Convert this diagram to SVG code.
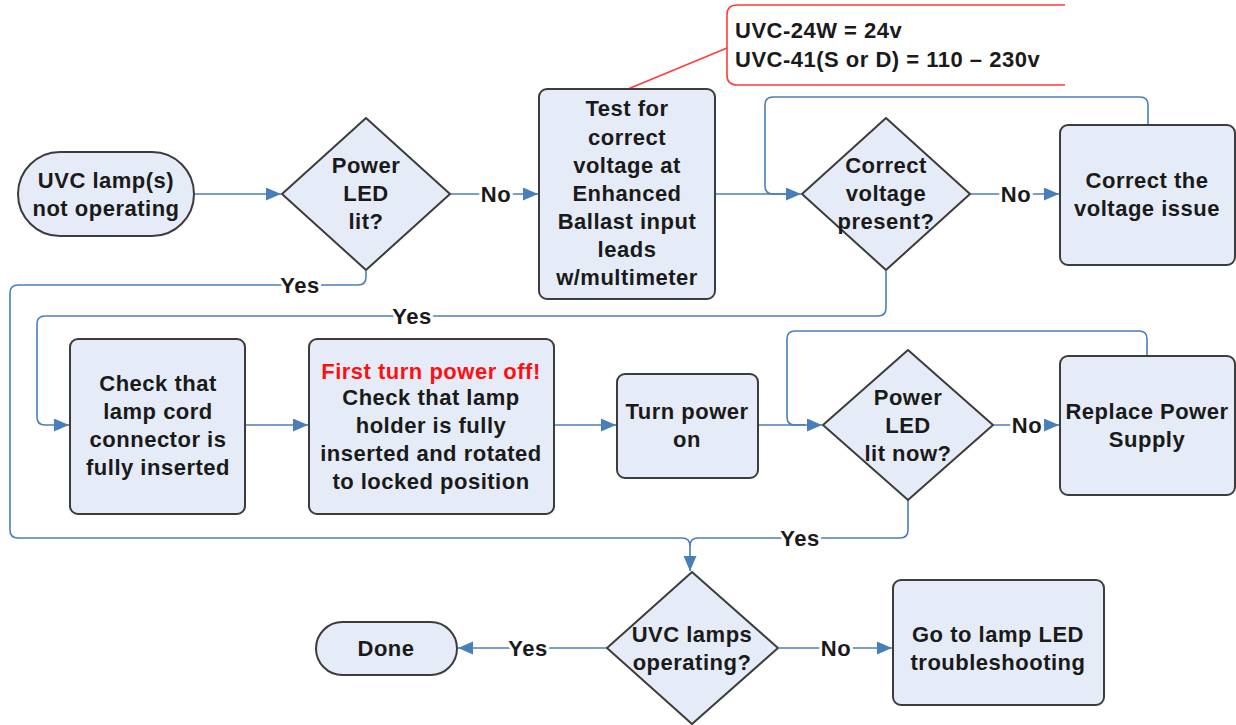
<svg xmlns="http://www.w3.org/2000/svg" width="1236" height="725" viewBox="0 0 1236 725">
<style>
.n{fill:#e6ecf7;stroke:#3c3c3c;stroke-width:2;stroke-linejoin:round}
.t{font-family:"Liberation Sans",Arial,sans-serif;font-weight:bold;font-size:22px;letter-spacing:0.5px;fill:#1a1a1a;text-anchor:middle}
.c{fill:none;stroke:#4a7ebb;stroke-width:1.6}
.lb{font-family:"Liberation Sans",Arial,sans-serif;font-weight:bold;font-size:22px;letter-spacing:0.5px;fill:#1a1a1a;text-anchor:middle;stroke:#fff;stroke-width:6;paint-order:stroke;stroke-linejoin:round}
</style>
<defs>
<marker id="a" markerUnits="userSpaceOnUse" markerWidth="16" markerHeight="14" refX="15" refY="6.5" orient="auto">
<path d="M0,0 L15,6.5 L0,13 Z" fill="#4a7ebb"/>
</marker>
</defs>
<rect width="1236" height="725" fill="#fff"/>
<g id="connectors">
<path class="c" d="M194,194 H281" marker-end="url(#a)"/>
<path class="c" d="M450,194 H538" marker-end="url(#a)"/>
<path class="c" d="M715,194 H801" marker-end="url(#a)"/>
<path class="c" d="M970,194 H1059" marker-end="url(#a)"/>
<path class="c" d="M1148,125 V105 Q1148,97 1140,97 H773 Q765,97 765,105 V186 Q765,194 773,194 H790"/>
<path class="c" d="M886,271 V308 Q886,316 878,316 H45 Q37,316 37,324 V417 Q37,425 45,425 H69" marker-end="url(#a)"/>
<path class="c" d="M245,425 H308" marker-end="url(#a)"/>
<path class="c" d="M554,425 H616" marker-end="url(#a)"/>
<path class="c" d="M758,425 H822" marker-end="url(#a)"/>
<path class="c" d="M1147,356 V339 Q1147,331 1139,331 H795 Q787,331 787,339 V417 Q787,425 795,425 H805"/>
<path class="c" d="M993,425 H1059" marker-end="url(#a)"/>
<path class="c" d="M366,271 V277 Q366,285 358,285 H18 Q10,285 10,293 V530 Q10,538 18,538 H682 Q690,538 690,546 V571" marker-end="url(#a)"/>
<path class="c" d="M908,500 V530 Q908,538 900,538 H698 Q690,538 690,546"/>
<path class="c" d="M607,648 H458" marker-end="url(#a)"/>
<path class="c" d="M779,648 H892" marker-end="url(#a)"/>
<text class="lb" x="496" y="202">No</text>
<text class="lb" x="1016" y="202">No</text>
<text class="lb" x="300" y="293">Yes</text>
<text class="lb" x="412" y="324">Yes</text>
<text class="lb" x="1027" y="433">No</text>
<text class="lb" x="800" y="546">Yes</text>
<text class="lb" x="528" y="656">Yes</text>
<text class="lb" x="836" y="656">No</text>
</g>
<g id="callout">
<path d="M1065,5 H737 Q727,5 727,15 V75 Q727,85 737,85 H1065" fill="#fff" stroke="#ff3b3b" stroke-width="1.6"/>
<path d="M727,48 L628,89" stroke="#ff3b3b" stroke-width="1.6" fill="none"/>
<text class="t" x="735" y="38" style="text-anchor:start">UVC-24W = 24v</text>
<text class="t" x="735" y="67" style="text-anchor:start">UVC-41(S or D) = 110 – 230v</text>
</g>
<g id="start">
<rect class="n" x="18" y="152" width="176" height="84" rx="42"/>
<text class="t" x="106" y="188">UVC lamp(s)</text>
<text class="t" x="106" y="216">not operating</text>
</g>
<g id="d1">
<polygon class="n" points="366,118 450,194 366,270 282,194"/>
<text class="t" x="366" y="173">Power</text>
<text class="t" x="366" y="201">LED</text>
<text class="t" x="366" y="229">lit?</text>
</g>
<g id="test">
<rect class="n" x="539" y="89" width="176" height="210" rx="8"/>
<text class="t" x="627" y="116">Test for</text>
<text class="t" x="627" y="145">correct</text>
<text class="t" x="627" y="173">voltage at</text>
<text class="t" x="627" y="201">Enhanced</text>
<text class="t" x="627" y="229">Ballast input</text>
<text class="t" x="627" y="257">leads</text>
<text class="t" x="627" y="285">w/multimeter</text>
</g>
<g id="d2">
<polygon class="n" points="886,118 970,194 886,270 802,194"/>
<text class="t" x="886" y="173">Correct</text>
<text class="t" x="886" y="201">voltage</text>
<text class="t" x="886" y="229">present?</text>
</g>
<g id="correct">
<rect class="n" x="1060" y="125" width="175" height="140" rx="8"/>
<text class="t" x="1147" y="188">Correct the</text>
<text class="t" x="1147" y="216">voltage issue</text>
</g>
<g id="cord">
<rect class="n" x="70" y="339" width="175" height="175" rx="8"/>
<text class="t" x="158" y="391">Check that</text>
<text class="t" x="158" y="419">lamp cord</text>
<text class="t" x="158" y="447">connector is</text>
<text class="t" x="158" y="475">fully inserted</text>
</g>
<g id="holder">
<rect class="n" x="309" y="339" width="245" height="175" rx="8"/>
<text class="t" x="431" y="379" style="fill:#ff1010">First turn power off!</text>
<text class="t" x="431" y="405">Check that lamp</text>
<text class="t" x="431" y="433">holder is fully</text>
<text class="t" x="431" y="461">inserted and rotated</text>
<text class="t" x="431" y="489">to locked position</text>
</g>
<g id="turnon">
<rect class="n" x="617" y="374" width="141" height="104" rx="8"/>
<text class="t" x="687" y="419">Turn power</text>
<text class="t" x="687" y="447">on</text>
</g>
<g id="d3">
<polygon class="n" points="908,350 993,425 908,500 823,425"/>
<text class="t" x="908" y="405">Power</text>
<text class="t" x="908" y="433">LED</text>
<text class="t" x="908" y="461">lit now?</text>
</g>
<g id="replace">
<rect class="n" x="1060" y="356" width="175" height="139" rx="8"/>
<text class="t" x="1147" y="419">Replace Power</text>
<text class="t" x="1147" y="447">Supply</text>
</g>
<g id="d4">
<polygon class="n" points="692,572 778,648 692,724 607,648"/>
<text class="t" x="692" y="642">UVC lamps</text>
<text class="t" x="692" y="670">operating?</text>
</g>
<g id="done">
<rect class="n" x="316" y="622" width="141" height="53" rx="26.5"/>
<text class="t" x="386" y="656">Done</text>
</g>
<g id="golamp">
<rect class="n" x="893" y="580" width="211" height="125" rx="8"/>
<text class="t" x="998" y="642">Go to lamp LED</text>
<text class="t" x="998" y="670">troubleshooting</text>
</g>
</svg>
